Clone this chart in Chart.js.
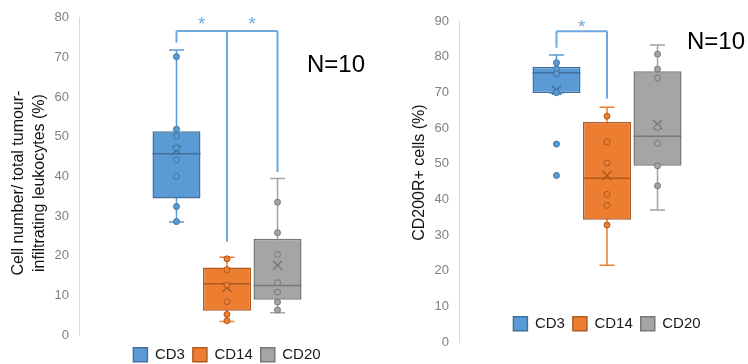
<!DOCTYPE html>
<html lang="en">
<head>
<meta charset="UTF-8" />
<title>CD3 / CD14 / CD20 box plots</title>
<script src="https://cdn.jsdelivr.net/npm/chart.js@4"></script>
<style>
  html, body { margin: 0; padding: 0; background: #fff; overflow: hidden; }
  #wrap { position: relative; width: 748px; height: 364px; overflow: hidden; }
  #left { position: absolute; left: 0; top: 0; }
  #right { position: absolute; left: 380px; top: 0; }
</style>
</head>
<body>
<div id="wrap">
  <canvas id="left" width="380" height="368"></canvas>
  <canvas id="right" width="380" height="375"></canvas>
</div>

<script>
const groups = ["CD3", "CD14", "CD20"];
const fills = ["#5B9BD5", "#ED7D31", "#A5A5A5"];
const edges = ["#41719C", "#AE5A21", "#787878"];
const FONT = "'Liberation Sans', Arial, sans-serif";

// left panel: cell number / total tumour-infiltrating leukocytes (%)
const leftMin    = [28.5, 3.4, 5.6];
const leftQ1     = [34.4, 6.1, 8.9];
const leftMedian = [45.7, 12.9, 12.5];
const leftQ3     = [51.4, 17.0, 24.3];
const leftMax    = [71.9, 19.6, 39.5];
const leftMean   = [46.6, 12.0, 17.6];
const leftPoints = [
    [70.2, 51.9, 50.2, 47.2, 44.2, 40.0, 32.4, 28.6],
    [19.2, 16.5, 12.6, 8.4, 5.2, 3.6],
    [33.5, 25.8, 20.3, 13.2, 10.8, 8.3, 6.3]
];
const leftBracketY = 76.7;
const leftLegs = [73.8, 23.5, 41.1];      // bracket leg ends, per group
const leftStars = [[0.5, 79.5], [1.5, 79.5]];  // [group position, value]
const leftTicks = { min: 0, max: 80, step: 10 };

// right panel: CD200R+ cells (%)
const rightMin    = [69.8, 21.5, 37.0];
const rightQ1     = [69.8, 34.3, 49.4];
const rightMedian = [75.5, 45.9, 57.7];
const rightQ3     = [77.2, 61.7, 75.9];
const rightMax    = [80.5, 65.8, 83.3];
const rightMean   = [70.6, 46.7, 61.0];
const rightPoints = [
    [78.3, 76.6, 75.2, 69.9, 55.5, 46.7],
    [63.3, 56.1, 50.2, 41.4, 38.3, 32.8],
    [80.7, 76.5, 74.0, 60.1, 55.7, 49.4, 43.8]
];
const rightBracketY = 87.1;
const rightLegs = [82.5, 68.3];
const rightStars = [[0.5, 89.4]];
const rightTicks = { min: 0, max: 90, step: 10 };

// whiskers go under the boxes, the rest on top
const boxDetails = {
    id: "boxDetails",
    beforeDatasetsDraw(chart, args, o) {
        const ctx = chart.ctx, y = chart.scales.y;
        ctx.save();
        o.min.forEach((lo, i) => {
            const bar = chart.getDatasetMeta(i).data[0];
            const yLo = y.getPixelForValue(lo), yHi = y.getPixelForValue(o.max[i]);
            ctx.strokeStyle = fills[i];
            ctx.lineWidth = 1.5;
            ctx.beginPath();
            ctx.moveTo(bar.x, yHi); ctx.lineTo(bar.x, yLo);
            ctx.moveTo(bar.x - 7.5, yHi); ctx.lineTo(bar.x + 7.5, yHi);
            ctx.moveTo(bar.x - 7.5, yLo); ctx.lineTo(bar.x + 7.5, yLo);
            ctx.stroke();
        });
        ctx.restore();
    },
    afterDatasetsDraw(chart, args, o) {
        const ctx = chart.ctx, y = chart.scales.y;
        const xs = o.min.map((v, i) => chart.getDatasetMeta(i).data[0].x);
        ctx.save();
        xs.forEach((x, i) => {
            const bar = chart.getDatasetMeta(i).data[0];
            const half = bar.width / 2;
            ctx.strokeStyle = edges[i];
            ctx.lineWidth = 1.5;
            // median
            const ym = y.getPixelForValue(o.median[i]);
            ctx.beginPath();
            ctx.moveTo(x - half, ym); ctx.lineTo(x + half, ym);
            ctx.stroke();
            // mean
            const ya = y.getPixelForValue(o.mean[i]);
            ctx.beginPath();
            ctx.moveTo(x - 4.5, ya - 4.5); ctx.lineTo(x + 4.5, ya + 4.5);
            ctx.moveTo(x + 4.5, ya - 4.5); ctx.lineTo(x - 4.5, ya + 4.5);
            ctx.stroke();
            // individual values
            ctx.lineWidth = 1;
            ctx.fillStyle = fills[i];
            o.points[i].forEach(v => {
                ctx.beginPath();
                ctx.arc(x, y.getPixelForValue(v), 3, 0, Math.PI * 2);
                ctx.fill();
                ctx.stroke();
            });
        });

        // significance bracket
        const yb = y.getPixelForValue(o.bracketY);
        ctx.strokeStyle = "#6FA8DC";
        ctx.lineWidth = 2;
        ctx.beginPath();
        ctx.moveTo(xs[0], yb); ctx.lineTo(xs[o.legs.length - 1], yb);
        o.legs.forEach((v, i) => {
            ctx.moveTo(xs[i], yb); ctx.lineTo(xs[i], y.getPixelForValue(v));
        });
        ctx.stroke();
        ctx.fillStyle = "#6FA8DC";
        ctx.font = "19px " + FONT;
        ctx.textAlign = "center";
        ctx.textBaseline = "middle";
        o.stars.forEach(([pos, v]) => {
            const k = Math.floor(pos), f = pos - k;
            const sx = xs[k] + (xs[k + 1] - xs[k]) * f;
            ctx.fillText("*", sx, y.getPixelForValue(v) + 5);
        });

        // N label
        ctx.fillStyle = "#000";
        ctx.font = "24px " + FONT;
        ctx.textAlign = "left";
        ctx.fillText("N=10", chart.chartArea.right - 68, y.getPixelForValue(o.nAt));
        ctx.restore();
    }
};

// move the legend to a given centre line
const legendPlace = {
    id: "legendPlace",
    beforeDraw(chart, args, o) {
        const lg = chart.legend;
        const cur = lg.top + lg.options.labels.padding + 7.5;
        const dy = o.y - cur;
        lg.top += dy;
        lg.bottom += dy;
    }
};

function makePanel(id, p) {
    return new Chart(document.getElementById(id), {
        type: "bar",
        data: {
            labels: [""],
            datasets: groups.map((g, i) => ({
                label: g,
                data: [[p.q1[i], p.q3[i]]],
                backgroundColor: fills[i],
                borderColor: edges[i],
                borderWidth: 1.5,
                borderSkipped: false,
                categoryPercentage: 0.512,
                barPercentage: 0.95
            }))
        },
        options: {
            responsive: false,
            animation: false,
            devicePixelRatio: 1,
            layout: { padding: { top: p.top, right: 5, bottom: 0, left: 0 } },
            scales: {
                x: { display: false },
                y: {
                    min: p.ticks.min,
                    max: p.ticks.max,
                    afterFit: s => { s.width = 79; },
                    grid: { display: false, drawTicks: false },
                    border: { display: true, color: "#D9D9D9", width: 1 },
                    ticks: {
                        stepSize: p.ticks.step,
                        padding: 10,
                        color: "#808080",
                        font: { family: FONT, size: 13 }
                    },
                    title: {
                        display: true,
                        text: p.title,
                        color: "#111",
                        font: { family: FONT, size: 16, lineHeight: 1.3 },
                        padding: { top: p.titlePad, bottom: 0 }
                    }
                }
            },
            plugins: {
                tooltip: { enabled: false },
                legend: {
                    position: "bottom",
                    fullSize: false,
                    labels: {
                        boxWidth: 14,
                        boxHeight: 14,
                        padding: 8,
                        color: "#1a1a1a",
                        font: { family: FONT, size: 15 }
                    }
                },
                legendPlace: { y: p.legendY },
                boxDetails: {
                    min: p.min, median: p.median, max: p.max, mean: p.mean,
                    points: p.points, bracketY: p.bracketY, legs: p.legs,
                    stars: p.stars, nAt: p.nAt
                }
            }
        },
        plugins: [legendPlace, boxDetails]
    });
}

makePanel("left", {
    min: leftMin, q1: leftQ1, median: leftMedian, q3: leftQ3, max: leftMax,
    mean: leftMean, points: leftPoints, bracketY: leftBracketY, legs: leftLegs,
    stars: leftStars, ticks: leftTicks, nAt: 68.0, top: 16, legendY: 354.7,
    title: ["Cell number/ total tumour-   ", "infiltrating leukocytes (%)   "],
    titlePad: 8
});

makePanel("right", {
    min: rightMin, q1: rightQ1, median: rightMedian, q3: rightQ3, max: rightMax,
    mean: rightMean, points: rightPoints, bracketY: rightBracketY, legs: rightLegs,
    stars: rightStars, ticks: rightTicks, nAt: 84.1, top: 21, legendY: 323.7,
    title: "    CD200R+ cells (%)",
    titlePad: 29
});
</script>
</body>
</html>
